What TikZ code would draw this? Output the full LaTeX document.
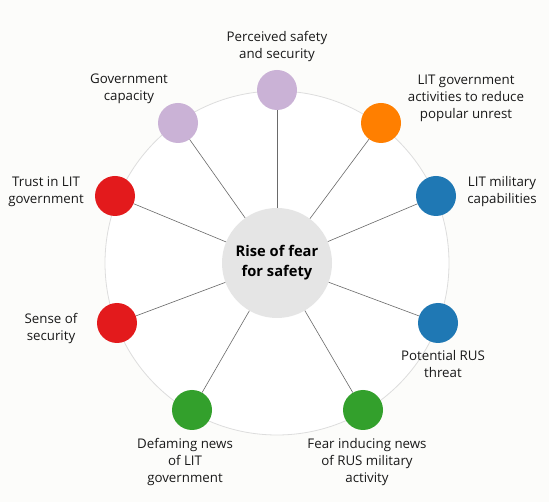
\documentclass[tikz,border=0pt]{standalone}
\usepackage{fontspec}
\setmainfont{Open Sans}
\usetikzlibrary{positioning}

\definecolor{lilac}{HTML}{CAB2D6}
\definecolor{cborange}{HTML}{FF7F00}
\definecolor{cbblue}{HTML}{1F78B4}
\definecolor{cbred}{HTML}{E31A1C}
\definecolor{cbgreen}{HTML}{33A02C}
\definecolor{hubgray}{HTML}{E5E5E5}
\definecolor{ringgray}{HTML}{DDDDDD}
\definecolor{spokegray}{HTML}{6A6A6A}
\definecolor{paper}{HTML}{FCFCFA}

\begin{document}
\begin{tikzpicture}[
    x=1pt, y=-1pt,
    every node/.style={align=center},
    factor/.style={circle, minimum size=40pt, inner sep=0pt},
    lbl/.style={font=\fontsize{13.3}{17}\selectfont, text=black!90},
    spoke/.style={draw=spokegray, line width=0.6pt}
]

%-------------------------------
% 1) Background and ring
%-------------------------------
\fill[paper] (0,0) rectangle (549,502);
\useasboundingbox (0,0) rectangle (549,502);
\draw[ringgray, line width=0.8pt, fill=white] (277,263) circle (172);

%-------------------------------
% 2) Central node
%-------------------------------
\node[circle, fill=hubgray, minimum size=110pt, inner sep=0pt,
      font=\fontsize{14.7}{20}\selectfont\bfseries] (fear) at (277,263)
      {Rise of fear\\for safety};

%-------------------------------
% 3) Factor nodes round the ring
%-------------------------------
\node[factor, fill=lilac]     (perceived) at (277,90)  {};
\node[factor, fill=cborange]  (activity)  at (381,123) {};
\node[factor, fill=cbblue]    (military)  at (436,196) {};
\node[factor, fill=cbblue]    (threat)    at (438,323) {};
\node[factor, fill=cbgreen]   (fearnews)  at (363,410) {};
\node[factor, fill=cbgreen]   (defaming)  at (192,410) {};
\node[factor, fill=cbred]     (sense)     at (117,323) {};
\node[factor, fill=cbred]     (trust)     at (115,196) {};
\node[factor, fill=lilac]     (capacity)  at (178,123) {};

%-------------------------------
% 4) Labels
%-------------------------------
\node[lbl] (perceivedlbl) at (277,47)  {Perceived safety\\and security};
\node[lbl] (activitylbl)  at (466,98)  {LIT government\\activities to reduce\\popular unrest};
\node[lbl] (militarylbl)  at (502,192) {LIT military\\capabilities};
\node[lbl] (threatlbl)    at (443,364) {Potential RUS\\threat};
\node[lbl] (fearnewslbl)  at (367,462) {Fear inducing news\\of RUS military\\activity};
\node[lbl] (defaminglbl)  at (185,462) {Defaming news\\of LIT\\government};
\node[lbl] (senselbl)     at (51,329)  {Sense of\\security};
\node[lbl] (trustlbl)     at (46,192)  {Trust in LIT\\government};
\node[lbl] (capacitylbl)  at (129,89)  {Government\\capacity};

%-------------------------------
% 5) Spokes
%-------------------------------
\foreach \f in {perceived, activity, military, threat, fearnews,
                defaming, sense, trust, capacity}
  \draw[spoke] (fear) -- (\f);

\end{tikzpicture}
\end{document}
